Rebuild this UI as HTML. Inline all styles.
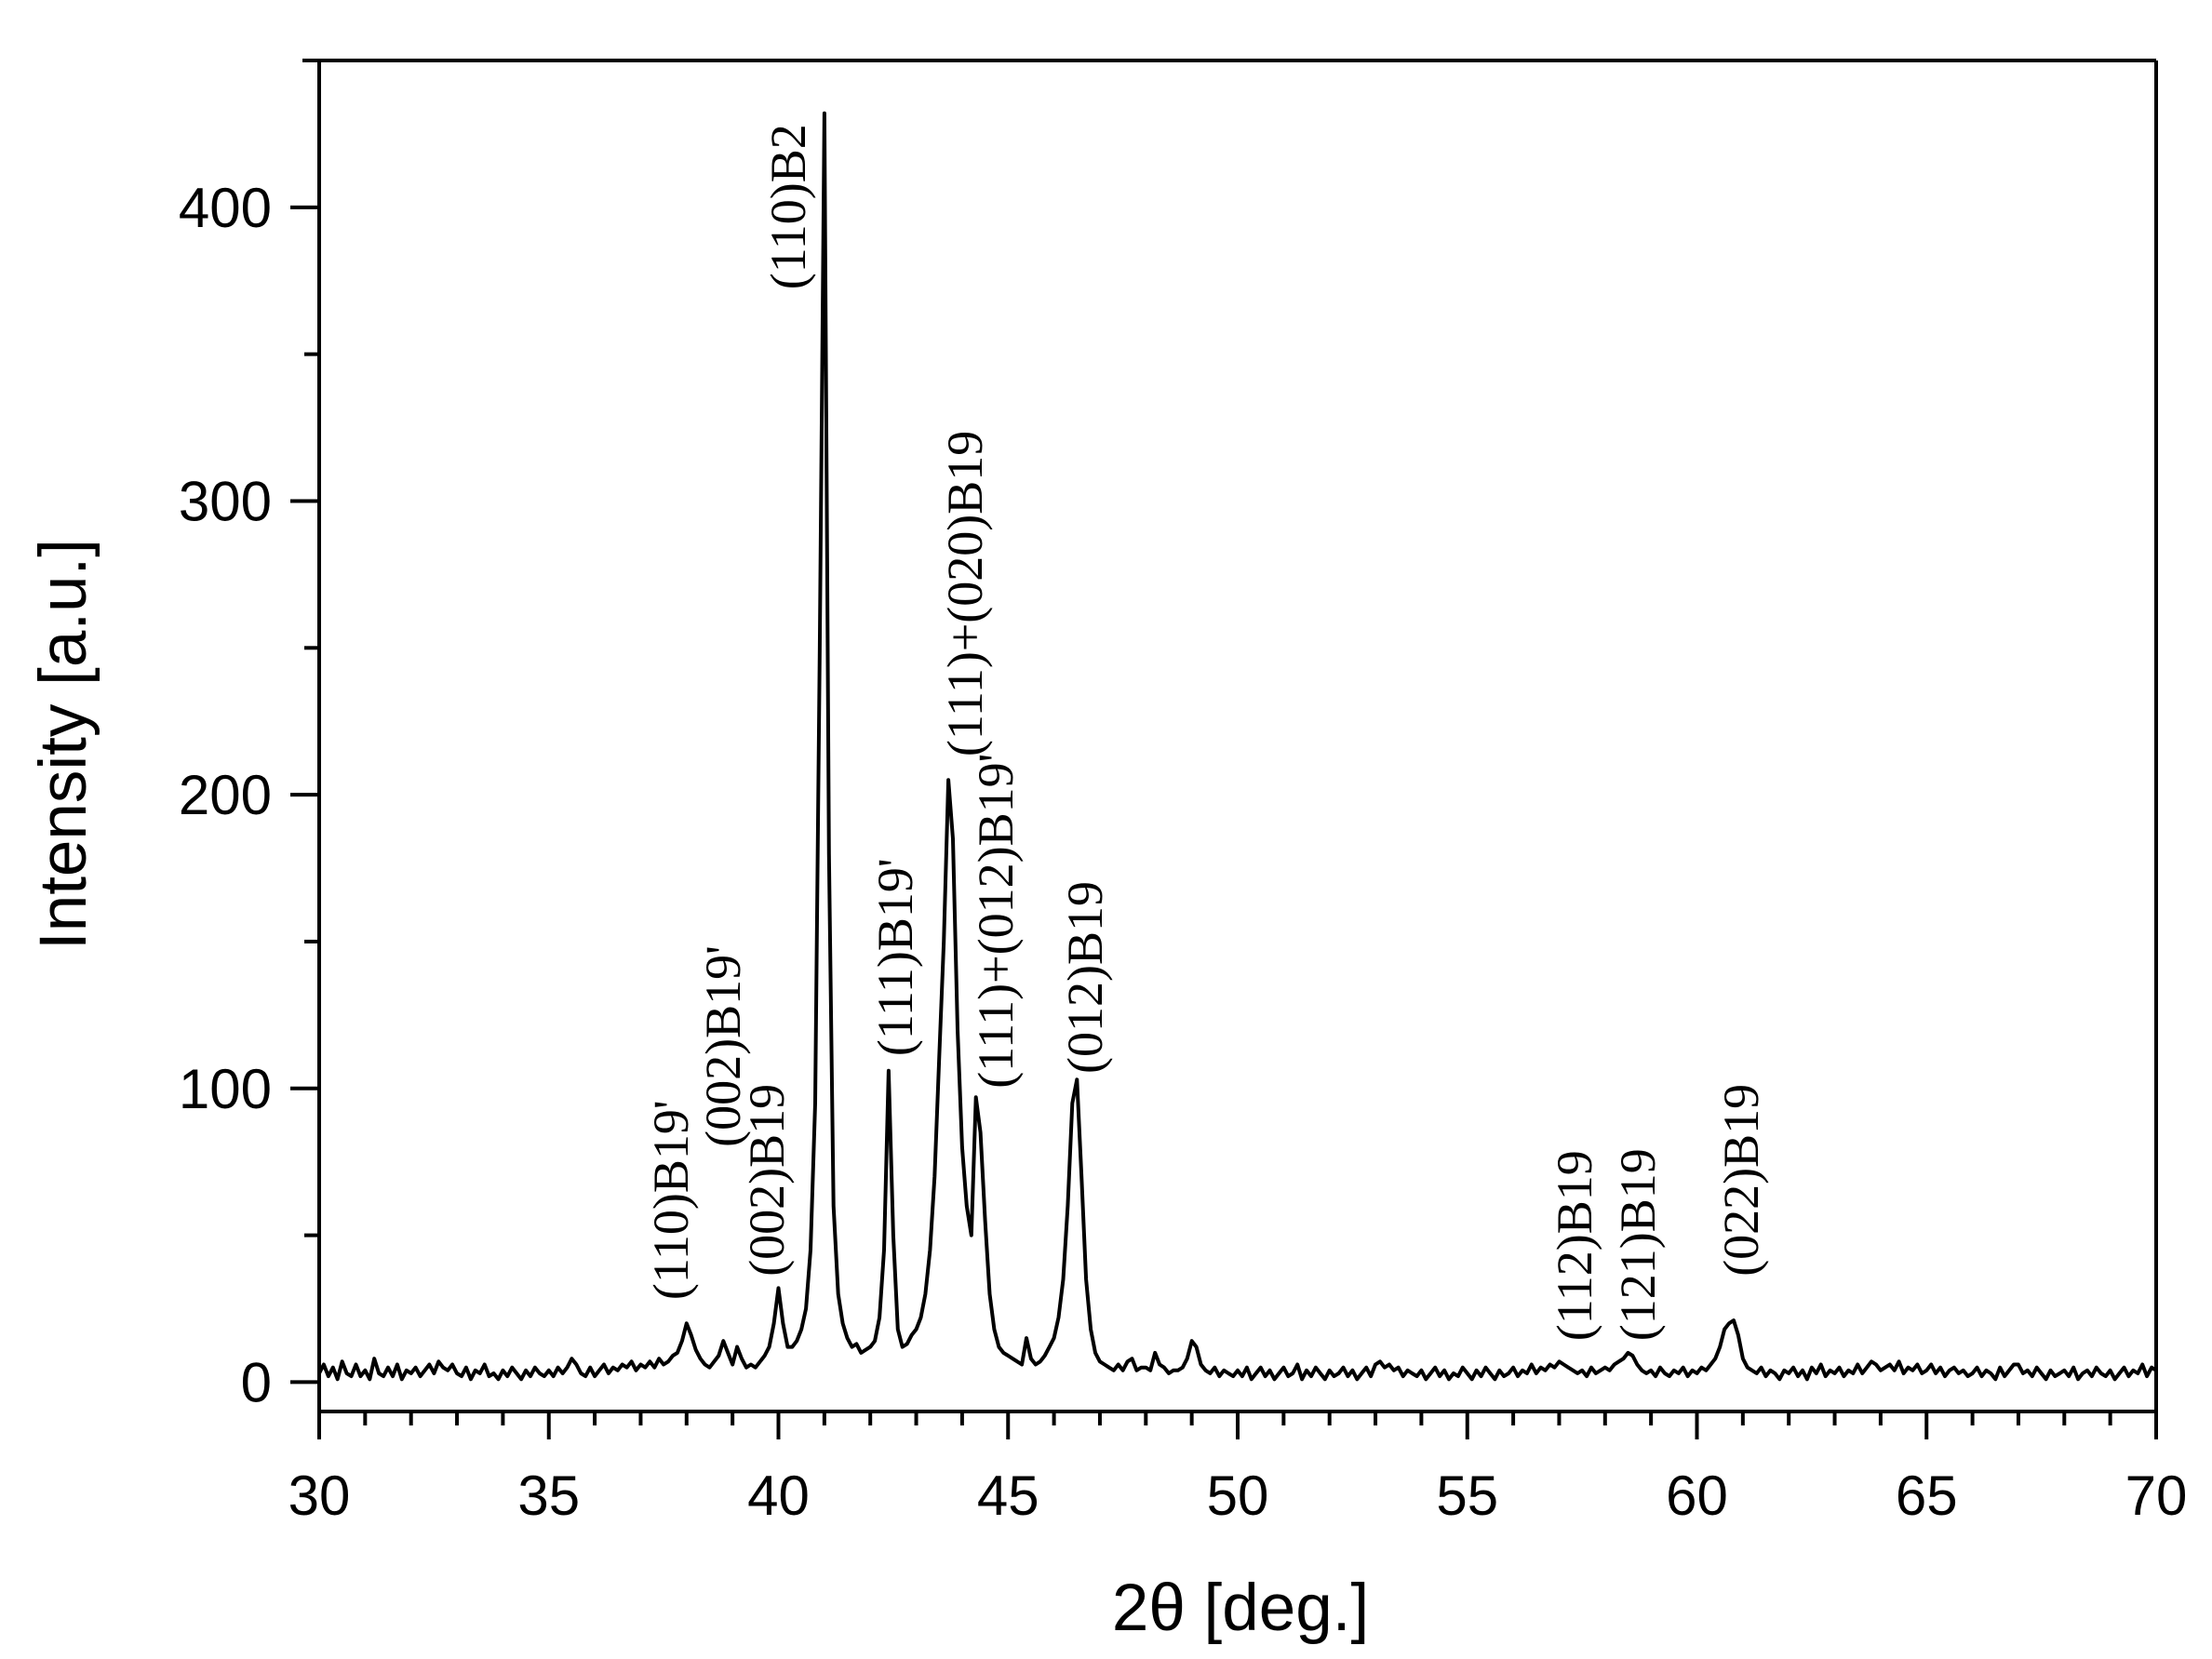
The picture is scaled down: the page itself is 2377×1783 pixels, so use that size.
<!DOCTYPE html>
<html><head><meta charset="utf-8"><style>
html,body{margin:0;padding:0;background:#fff;}
svg{display:block;}
.tick{font-family:"Liberation Sans",Arial,sans-serif;font-size:60px;fill:#000;}
.ann{font-family:"Liberation Serif","Times New Roman",serif;font-size:54px;fill:#000;}
</style></head><body>
<svg id="chart" width="2377" height="1783" viewBox="0 0 2377 1783" xmlns="http://www.w3.org/2000/svg">
<g id="axes"></g>
<path id="trace" fill="none" stroke="#000" stroke-width="4" stroke-linejoin="round"></path>
<g id="labels"></g>
<text x="0" y="0" transform="translate(92,800) rotate(-90)" text-anchor="middle" font-family="Liberation Sans, Arial, sans-serif" font-size="71">Intensity [a.u.]</text>
<text x="1333" y="1752" text-anchor="middle" font-family="Liberation Sans, Arial, sans-serif" font-size="71">2θ [deg.]</text>
</svg>
<script>
const angleStart = 30;
const angleStep = 0.1;
const intensity = [
3,6,2,5,1,7,3,2,6,2,
4,1,8,3,2,5,2,6,1,4,
3,5,2,4,6,3,7,5,4,6,
3,2,5,1,4,3,6,2,3,1,
4,2,5,3,1,4,2,5,3,2,
4,2,5,3,5,8,6,3,2,5,
2,4,6,3,5,4,6,5,7,4,
6,5,7,5,8,6,7,9,10,14,
20,16,11,8,6,5,7,9,14,10,
6,12,8,5,6,5,7,9,12,20,
32,20,12,12,14,18,25,45,95,250,
432,180,60,30,20,15,12,13,10,11,
12,14,22,45,106,50,18,12,13,16,
18,22,30,45,70,110,150,205,185,120,
80,60,50,97,85,55,30,18,12,10,
9,8,7,6,15,8,6,7,9,12,
15,22,35,60,95,103,70,35,18,10,
7,6,5,4,6,4,7,8,4,5,
5,4,10,6,5,3,4,4,5,8,
14,12,6,4,3,5,2,4,3,2,
4,2,5,1,3,5,2,4,1,3,
5,2,3,6,1,4,2,5,3,1,
4,2,3,5,2,4,1,3,5,2,
6,7,5,6,4,5,2,4,3,2,
4,1,3,5,2,4,1,3,2,5,
3,1,4,2,5,3,1,4,2,3,
5,2,4,3,6,3,5,4,6,5,
7,6,5,4,3,4,2,5,3,4,
5,4,6,7,8,10,9,6,4,3,
4,2,5,3,2,4,3,5,2,4,
3,5,4,6,8,12,18,20,21,16,
8,5,4,3,5,2,4,3,1,4,
3,5,2,4,1,5,3,6,2,4,
3,5,2,4,3,6,3,5,7,6,
4,5,6,4,7,3,5,4,6,3,
4,6,3,5,2,4,5,3,4,2,
3,5,2,4,3,1,5,2,4,6,
6,3,4,2,5,3,1,4,2,3,
4,2,5,1,3,4,2,5,3,2,
4,1,3,5,2,4,3,6,2,5,
4];
const xTicks = [30,35,40,45,50,55,60,65,70];
const yTicks = [0,100,200,300,400];
const peakLabels = ["(110)B2","(110)B19'","(002)B19'","(002)B19","(111)B19'","(111)+(020)B19","(111)+(012)B19'","(012)B19","(112)B19","(121)B19","(022)B19"];
const peakLabelAngle = [40.21,37.66,38.79,39.75,42.54,44.06,44.73,46.68,57.34,58.71,60.96];
const peakLabelBase = [372,28,80,36,111,213,100,105,14,14,36];

const X0=343,X1=2317,Y0=1517,Y1=65,XMIN=30,XMAX=70,YMIN=-10,YMAX=450;
const sx=v=>X0+(v-XMIN)/(XMAX-XMIN)*(X1-X0);
const sy=v=>Y0-(v-YMIN)/(YMAX-YMIN)*(Y0-Y1);
const NS="http://www.w3.org/2000/svg";
const axes=document.getElementById('axes');
function line(x1,y1,x2,y2,w,name){
const l=document.createElementNS(NS,'line');
l.setAttribute('x1',x1);l.setAttribute('y1',y1);l.setAttribute('x2',x2);l.setAttribute('y2',y2);
l.setAttribute('stroke','#000');l.setAttribute('stroke-width',w);


axes.appendChild(l);
}
line(X0,Y1,X0,Y0+30,4,'y-axis-line');
line(X1,Y1,X1,Y0+30,4,'right-frame-line');
line(X0-18,Y1,X1,Y1,4,'top-frame-line');
line(X0,Y0,X1,Y0,4,'x-axis-line');
for(let v=XMIN;v<=XMAX;v++){const major=v%5===0;line(sx(v),Y0,sx(v),Y0+(major?30:15),4,major?'x-major-tick':'x-minor-tick');}
xTicks.forEach(v=>{
const t=document.createElementNS(NS,'text');t.setAttribute('class','tick');
t.setAttribute('x',sx(v));t.setAttribute('y',1628);t.setAttribute('text-anchor','middle');t.textContent=v;


axes.appendChild(t);
});
for(let v=0;v<=450;v+=50){const major=v%100===0;line(X0,sy(v),X0-(major?31:16),sy(v),4,major?'y-major-tick':'y-minor-tick');}
yTicks.forEach(v=>{
const t=document.createElementNS(NS,'text');t.setAttribute('class','tick');
t.setAttribute('x',292);t.setAttribute('y',sy(v)+21);t.setAttribute('text-anchor','end');t.textContent=v;


axes.appendChild(t);
});
let d='';
intensity.forEach((v,i)=>{const a=angleStart+i*angleStep;d+=(i?'L':'M')+sx(a).toFixed(1)+' '+sy(v).toFixed(1);});
document.getElementById('trace').setAttribute('d',d);
const lg=document.getElementById('labels');
peakLabels.forEach((s,i)=>{
const t=document.createElementNS(NS,'text');t.setAttribute('class','ann');
const x=sx(peakLabelAngle[i])+18,y=sy(peakLabelBase[i]);
t.setAttribute('transform','translate('+x.toFixed(1)+','+y.toFixed(1)+') rotate(-90)');
if(i===2){t.setAttribute('font-size','60');}
t.textContent=s;


lg.appendChild(t);
});
</script>
</body></html>
